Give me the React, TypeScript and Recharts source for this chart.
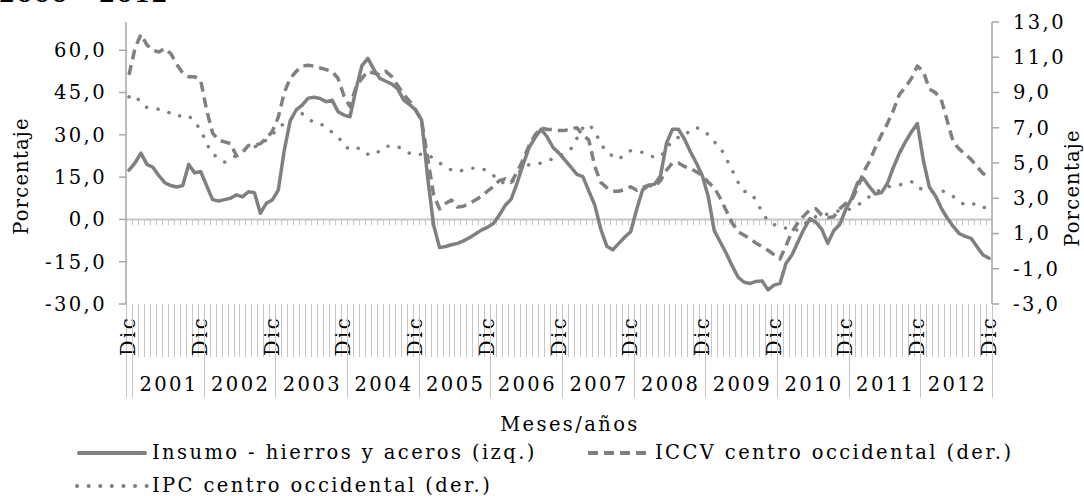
import React from 'react';
import { LineChart, Line, XAxis, YAxis, ReferenceLine, Legend } from 'recharts';

const FONT = "'DejaVu Serif', serif";
const FS = 19.5;
const LS = 2.4;
const INK = '#000000';
const SERIES_COLOR = '#808080';
const AXIS_COLOR = '#a6a6a6';
const GRID_COLOR = '#c6c6c6';

const W = 1084;
const H = 496;
const TOP = 22;
const LEFT_AXIS_W = 126;
const RIGHT_AXIS_W = 92;
const X_AXIS_H = 192;
const PLOT_BOTTOM = H - X_AXIS_H;

const YEARS = ['2001', '2002', '2003', '2004', '2005', '2006', '2007', '2008', '2009', '2010', '2011', '2012'];
const DEC_LABEL = 'Dic';
const LEFT_TICKS = [-30, -15, 0, 15, 30, 45, 60];
const RIGHT_TICKS = [-3, -1, 1, 3, 5, 7, 9, 11, 13];
const LEFT_DOMAIN = [-30, 70];
const RIGHT_DOMAIN = [-3, 13];

// Dic 2000 .. Dic 2012, monthly
const insumo = [
  17.5, 20.0, 23.5, 19.5, 18.5, 15.5, 13.0, 12.0, 11.5, 12.0, 19.5, 16.5, 17.0,
  12.0, 7.0, 6.5, 7.0, 7.5, 8.7, 8.0, 9.8, 9.5, 2.2, 5.7, 6.9,
  10.4, 24.5, 35.0, 38.8, 40.5, 43.0, 43.3, 42.9, 41.7, 42.3, 38.2, 37.0,
  36.4, 46.0, 54.5, 57.1, 53.2, 50.0, 49.0, 48.0, 46.3, 42.3, 40.7, 38.8,
  35.2, 15.0, -2.0, -10.0, -9.6, -9.0, -8.5, -7.6, -6.5, -5.2, -3.8, -2.8,
  -1.5, 1.5, 5.0, 7.2, 13.0, 19.5, 25.5, 29.0, 32.0, 29.3, 25.5, 23.5,
  21.0, 18.5, 16.0, 15.2, 10.0, 5.0, -3.5, -9.5, -10.8, -8.5, -6.3, -4.4,
  3.5, 10.5, 12.0, 12.5, 15.5, 27.0, 32.0, 32.0, 28.5, 24.0, 20.0, 15.5,
  8.0, -4.0, -8.0, -12.0, -16.5, -20.5, -22.3, -22.7, -22.0, -21.8, -25.0, -23.3,
  -22.7, -15.6, -12.6, -8.0, -3.5, 0.2, -1.0, -3.5, -8.5, -4.0, -1.8, 3.5,
  7.5, 13.0, 14.5, 11.5, 9.0, 9.5, 12.8, 18.5, 23.5, 27.5, 31.0, 34.0,
  21.0, 11.5, 8.5, 4.0, 0.5, -2.5, -5.0, -6.0, -6.7, -9.7, -12.6, -13.8,
];

const iccv = [
  10.0, 11.5, 12.3, 11.7, 11.4, 11.3, 11.5, 11.2, 10.6, 10.1, 9.9, 9.9, 9.7,
  8.0, 6.7, 6.3, 6.2, 6.1, 5.4, 5.6, 6.0, 6.0, 6.1, 6.4, 6.8,
  7.6, 9.0, 9.8, 10.2, 10.5, 10.55, 10.5, 10.4, 10.3, 10.2, 9.8, 8.8,
  8.2, 9.3, 9.8, 10.2, 10.1, 10.0, 10.2, 9.9, 9.4, 8.9, 8.5, 8.0,
  7.4, 5.3, 3.2, 2.4, 2.7, 2.9, 2.5, 2.55, 2.7, 2.9, 3.1, 3.4,
  3.65, 4.0, 4.1, 3.9, 4.5, 5.2, 6.0, 6.6, 7.0, 6.9, 6.9, 6.85,
  6.85, 6.95, 7.0, 6.6, 6.3, 4.8, 3.9, 3.6, 3.4, 3.4, 3.5, 3.65,
  3.45, 3.6, 3.75, 3.65, 4.0, 4.6, 5.0, 5.0, 4.8, 4.7, 4.5, 4.3,
  3.9, 3.6, 3.0, 2.3, 1.6, 1.1, 0.9, 0.7, 0.45, 0.25, 0.05, -0.2,
  -0.45, 0.3, 1.1, 1.6, 2.0, 2.35, 2.4, 2.05, 1.9, 1.95, 2.4, 2.7,
  2.9, 3.6, 4.5, 5.1, 5.9, 6.6, 7.25, 8.0, 8.9, 9.3, 9.8, 10.5,
  10.2, 9.2, 9.0, 8.6, 7.4, 6.2, 5.8, 5.5, 5.2, 4.8, 4.4, 4.2,
];

const ipc = [
  8.75, 8.85, 8.4, 8.15, 8.1, 8.05, 8.0, 7.8, 7.65, 7.7, 7.7, 7.3, 6.9,
  6.1, 5.5, 5.3, 5.05, 5.2, 5.45, 5.7, 5.8, 5.9, 6.1, 6.3, 6.6,
  7.0, 7.25, 7.5, 7.65, 7.8, 7.5, 7.3, 7.25, 7.0, 6.75, 6.5, 6.0,
  5.75, 5.85, 5.8, 5.5, 5.45, 5.7, 5.95, 5.95, 5.95, 5.7, 5.55, 5.45,
  5.5, 5.5, 5.25, 5.0, 4.8, 4.6, 4.5, 4.6, 4.7, 4.7, 4.7, 4.55,
  4.3, 3.95, 3.85, 3.85, 4.3, 4.8, 4.9, 4.9, 5.0, 5.1, 5.25, 5.4,
  5.55, 5.8, 6.4, 7.0, 7.2, 6.8, 6.1, 5.6, 5.4, 5.2, 5.5, 5.7,
  5.65, 5.6, 5.4, 5.35, 5.35, 5.8, 6.3, 6.45, 6.5, 6.9, 7.0, 6.9,
  6.6, 6.2, 5.9, 5.25, 4.6, 3.9, 3.4, 3.3, 2.9, 2.2, 1.7, 1.5,
  1.45, 1.3, 1.2, 1.2, 1.5, 1.8, 1.95, 2.05, 2.1, 2.2, 2.3, 2.35,
  2.4, 2.6, 2.85, 3.1, 3.35, 3.5, 3.65, 3.7, 3.75, 3.85, 3.95, 3.6,
  3.5, 3.4, 3.4, 3.45, 3.3, 3.1, 2.85, 2.6, 2.65, 2.7, 2.5, 2.4,
];

const SERIES = [
  { key: 'insumo', name: 'Insumo - hierros y aceros (izq.)', axis: 'left', dash: undefined as string | undefined, cap: 'round' as const },
  { key: 'iccv', name: 'ICCV centro occidental (der.)', axis: 'right', dash: '10 6', cap: 'butt' as const },
  { key: 'ipc', name: 'IPC centro occidental (der.)', axis: 'right', dash: '0.1 11.5', cap: 'round' as const },
];

const N = insumo.length;
const categories = insumo.map((_, i) => (i % 12 === 0 ? DEC_LABEL : ''));
const data = categories.map((c, i) => ({ idx: i, cat: c, insumo: insumo[i], iccv: iccv[i], ipc: ipc[i] }));

const xTicks: number[] = [];
for (let k = 0; k <= N; k++) xTicks.push(k - 0.5);
categories.forEach((c, i) => { if (c) xTicks.push(i); });
xTicks.sort((a, b) => a - b);

const fmt = (v: number) => v.toFixed(1).replace('.', ',');

const textStyle = { fontFamily: FONT, fontSize: FS, fill: INK, letterSpacing: LS, style: { letterSpacing: `${LS}px` } };

const XTick = (props: any) => {
  const { x, payload } = props;
  const v = payload.value as number;
  if (Number.isInteger(v)) {
    const label = categories[v];
    if (!label) return null;
    const bx = x + 6.5;
    const by = PLOT_BOTTOM + 12;
    return (
      <text x={bx} y={by} transform={`rotate(-90 ${bx} ${by})`} textAnchor="end" {...textStyle}>
        {label}
      </text>
    );
  }
  const k = Math.round(v + 0.5);
  const isEdge = k === 0 || k === N;
  const isYear = (k - 1) % 12 === 0;
  const y2 = isEdge || isYear ? PLOT_BOTTOM + 94 : PLOT_BOTTOM + 53;
  const yi = (k - 7) / 12;
  const yearLabel = Number.isInteger(yi) && yi >= 0 && yi < YEARS.length ? YEARS[yi] : null;
  const lx = Math.round(x) + 0.5;
  return (
    <g>
      <line x1={lx} x2={lx} y1={PLOT_BOTTOM} y2={y2} stroke={GRID_COLOR} strokeWidth={1} />
      {yearLabel && (
        <text x={x + LS / 2} y={PLOT_BOTTOM + 87} textAnchor="middle" {...textStyle}>
          {yearLabel}
        </text>
      )}
    </g>
  );
};

const ZeroAxis = (p: any) => {
  const { x1, x2, y1 } = p;
  const step = (x2 - x1) / N;
  const ticks = [];
  for (let k = 1; k < N; k++) {
    const tx = Math.round(x1 + k * step) + 0.5;
    ticks.push(<line key={k} x1={tx} x2={tx} y1={y1} y2={y1 + 6} stroke={GRID_COLOR} strokeWidth={1} />);
  }
  return (
    <g>
      <line x1={x1} x2={x2} y1={y1} y2={y1} stroke={GRID_COLOR} strokeWidth={2} />
      {ticks}
    </g>
  );
};

const LEGEND_POS = [
  { x: 77, y: 17, len: 70 },
  { x: 588, y: 17, len: 62 },
  { x: 77, y: 50, len: 70 },
];

const renderLegend = () => (
  <svg width={W} height={60} style={{ display: 'block' }}>
    {SERIES.map((s, i) => {
      const p = LEGEND_POS[i];
      return (
        <g key={s.key}>
          <line
            x1={p.x + (s.cap === 'round' && !s.dash ? 2 : 0)}
            x2={p.x + p.len - (s.cap === 'round' && !s.dash ? 2 : 0)}
            y1={p.y}
            y2={p.y}
            stroke={SERIES_COLOR}
            strokeWidth={4}
            strokeDasharray={s.dash}
            strokeLinecap={s.cap}
          />
          <text x={p.x + p.len + 5} y={p.y + 6} {...textStyle}>
            {s.name}
          </text>
        </g>
      );
    })}
  </svg>
);

const LeftTitle = () => (
  <text x={21} y={176} transform="rotate(-90 21 176)" textAnchor="middle" dominantBaseline="central" {...textStyle} letterSpacing={1.2} style={{ letterSpacing: '1.2px' }}>
    Porcentaje
  </text>
);
const RightTitle = () => (
  <text x={1072} y={188} transform="rotate(-90 1072 188)" textAnchor="middle" dominantBaseline="central" {...textStyle} letterSpacing={1.2} style={{ letterSpacing: '1.2px' }}>
    Porcentaje
  </text>
);
const XTitle = () => (
  <text x={570} y={431} textAnchor="middle" {...textStyle}>
    Meses/años
  </text>
);

export default function App() {
  return (
    <div style={{ position: 'absolute', left: 0, top: 0, width: W, height: H, background: '#fff' }}>
      <svg width={300} height={12} style={{ position: 'absolute', left: 0, top: 0 }}>
        <text x={-1} y={2} fontFamily={FONT} fontWeight="bold" fontSize={23} fill={INK} letterSpacing={1.5}>
          2000 - 2012
        </text>
      </svg>
      <LineChart width={W} height={H} data={data} margin={{ top: TOP, right: 0, bottom: 0, left: 0 }}>
        <XAxis
          dataKey="idx"
          type="number"
          domain={[-0.5, N - 0.5]}
          ticks={xTicks}
          interval={0}
          tick={<XTick />}
          tickLine={false}
          axisLine={false}
          height={X_AXIS_H}
          label={{ value: 'Meses/años', content: XTitle }}
        />
        <YAxis
          yAxisId="left"
          orientation="left"
          width={LEFT_AXIS_W}
          domain={LEFT_DOMAIN}
          ticks={LEFT_TICKS}
          interval={0}
          tickFormatter={fmt}
          tick={textStyle}
          tickSize={7}
          tickMargin={12}
          tickLine={{ stroke: AXIS_COLOR, strokeWidth: 1.5 }}
          axisLine={{ stroke: AXIS_COLOR, strokeWidth: 1.5 }}
          label={{ value: 'Porcentaje', content: LeftTitle }}
        />
        <YAxis
          yAxisId="right"
          orientation="right"
          width={RIGHT_AXIS_W}
          domain={RIGHT_DOMAIN}
          ticks={RIGHT_TICKS}
          interval={0}
          tickFormatter={fmt}
          tick={textStyle}
          tickSize={7}
          tickMargin={14}
          tickLine={{ stroke: AXIS_COLOR, strokeWidth: 1.5 }}
          axisLine={{ stroke: AXIS_COLOR, strokeWidth: 1.5 }}
          label={{ value: 'Porcentaje', content: RightTitle }}
        />
        <ReferenceLine yAxisId="left" y={0} shape={ZeroAxis} />
        {SERIES.map((s) => (
          <Line
            key={s.key}
            yAxisId={s.axis}
            dataKey={s.key}
            name={s.name}
            type="linear"
            stroke={SERIES_COLOR}
            strokeWidth={3.5}
            strokeDasharray={s.dash}
            strokeLinecap={s.cap}
            strokeLinejoin="round"
            dot={false}
            activeDot={false}
            isAnimationActive={false}
          />
        ))}
        <Legend
          layout="horizontal"
          verticalAlign="middle"
          align="center"
          wrapperStyle={{ position: 'absolute', left: 0, top: 436, width: W, height: 60 }}
          content={renderLegend}
        />
      </LineChart>
    </div>
  );
}
